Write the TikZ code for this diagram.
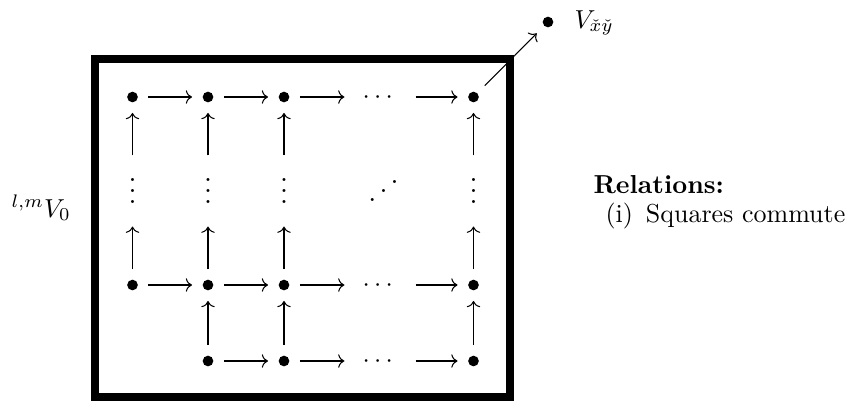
\documentclass[tikz,border=0pt]{standalone}
\usepackage{amsmath}
\usepackage{graphicx}
\usetikzlibrary{arrows.meta}
\newcommand{\myiddots}{\mathinner{\mkern1mu\raise1pt\hbox{.}\mkern2mu\raise4pt\hbox{.}\mkern2mu\raise7pt\vbox{\kern7pt\hbox{.}}\mkern1mu}}
\begin{document}
\begin{tikzpicture}[x=0.385pt,y=-0.385pt,
  pt/.style={circle,fill,inner sep=0pt,minimum size=4.1pt,outer sep=4.1pt},
  hd/.style={inner sep=0pt,minimum width=27pt,text height=5pt,text depth=0pt},
  vd/.style={inner sep=0pt,minimum height=27pt,text height=10pt,text depth=0pt},
  dd/.style={inner sep=0pt,text height=9.9pt,text depth=0pt},
  ar/.style={-{Computer Modern Rightarrow[length=2.4pt,width=5.2pt]},line width=0.4pt},
  txt/.style={inner sep=0pt,anchor=base west},
  frame/.style={draw,line width=3.1pt}]
\useasboundingbox (0,0) rectangle (854,401);
\draw[frame] (95,59) rectangle (510,397);
% row 1
\node[pt] (a11) at (132.5,97) {};
\node[pt] (a12) at (208,97) {};
\node[pt] (a13) at (284,97) {};
\node[hd] (a14) at (380,97) {$\cdots$};
\node[pt] (a15) at (473.5,97) {};
% row 2
\node[vd] (b1) at (132.5,191) {\scalebox{1.1}{$\vdots$}};
\node[vd] (b2) at (208,191) {\scalebox{1.1}{$\vdots$}};
\node[vd] (b3) at (284,191) {\scalebox{1.1}{$\vdots$}};
\node[dd] (b4) at (383.5,191) {\scalebox{1.1}{$\myiddots$}};
\node[vd] (b5) at (473.5,191) {\scalebox{1.1}{$\vdots$}};
% row 3
\node[pt] (c1) at (132.5,285) {};
\node[pt] (c2) at (208,285) {};
\node[pt] (c3) at (284,285) {};
\node[hd] (c4) at (380,285) {$\cdots$};
\node[pt] (c5) at (473.5,285) {};
% row 4
\node[pt] (d2) at (208,361) {};
\node[pt] (d3) at (284,361) {};
\node[hd] (d4) at (380,361) {$\cdots$};
\node[pt] (d5) at (473.5,361) {};
% outside
\node[pt] (vx) at (548,22) {};
\node[txt] (vl) at (574,28) {$V_{\check{x}\check{y}}$};
\node[txt] (lab) at (11,217) {${}^{l,m}V_0$};
\node[txt] (rel) at (593,193) {\textbf{Relations:}};
\node[txt] (sq) at (605,222) {(i)\hspace{5pt}Squares commute};
% horizontal arrows
\draw[ar] (a11) -- (a12); \draw[ar] (a12) -- (a13); \draw[ar] (a13) -- (a14); \draw[ar] (a14) -- (a15);
\draw[ar] (c1) -- (c2); \draw[ar] (c2) -- (c3); \draw[ar] (c3) -- (c4); \draw[ar] (c4) -- (c5);
\draw[ar] (d2) -- (d3); \draw[ar] (d3) -- (d4); \draw[ar] (d4) -- (d5);
% vertical arrows
\draw[ar] (b1) -- (a11); \draw[ar] (b2) -- (a12); \draw[ar] (b3) -- (a13); \draw[ar] (b5) -- (a15);
\draw[ar] (c1) -- (b1); \draw[ar] (c2) -- (b2); \draw[ar] (c3) -- (b3); \draw[ar] (c5) -- (b5);
\draw[ar] (d2) -- (c2); \draw[ar] (d3) -- (c3); \draw[ar] (d5) -- (c5);
% diagonal
\draw[ar] (a15) -- (vx);
\end{tikzpicture}
\end{document}
